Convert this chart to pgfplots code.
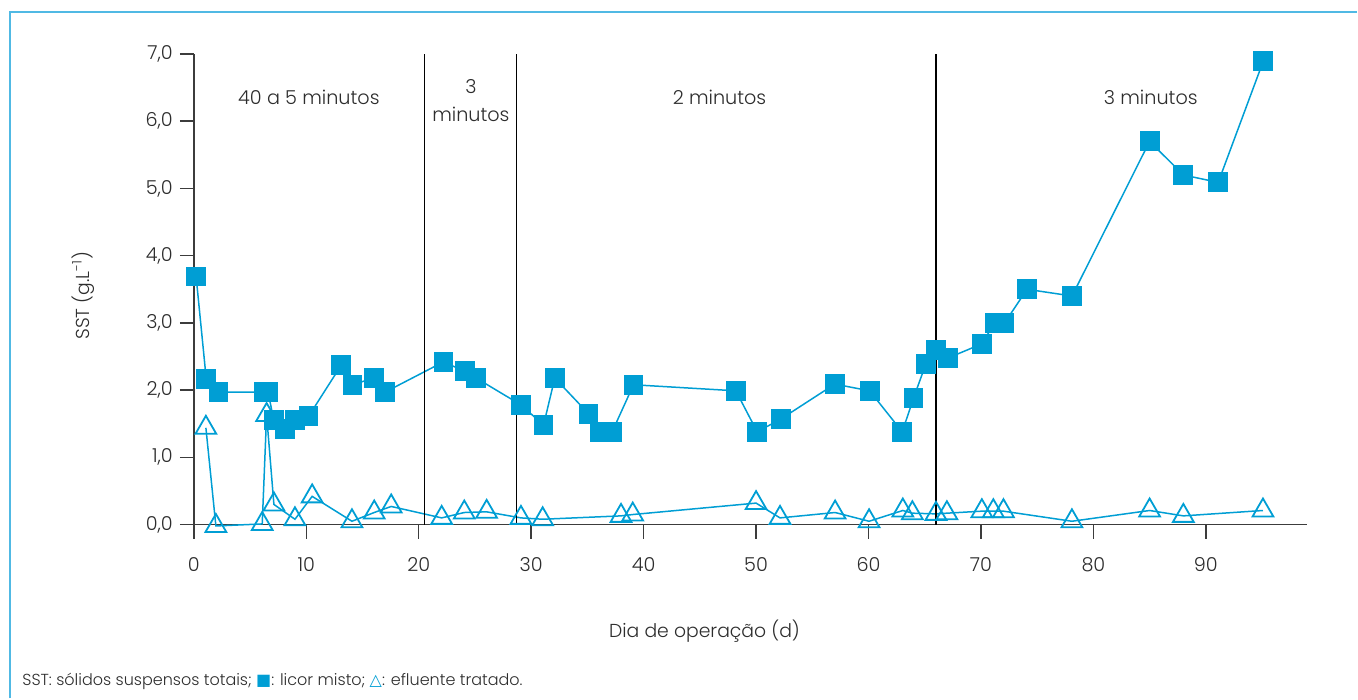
\documentclass[border=0pt]{standalone}
\usepackage{fontspec}
\setmainfont{Poppins Light}
\newfontfamily\dejavu{DejaVu Sans}
\usepackage{pgfplots}
\pgfplotsset{compat=1.18}
\definecolor{mainblue}{RGB}{0,158,212}
\definecolor{framecol}{RGB}{80,185,228}
\definecolor{axcol}{RGB}{60,60,60}
\definecolor{textgray}{RGB}{45,45,45}
\begin{document}
\begin{tikzpicture}
\path (0,0) rectangle (679pt,-349.5pt);
\draw[framecol, line width=1pt] (5pt,-349.5pt) -- (5pt,-6pt) -- (679pt,-6pt);
\begin{axis}[
  at={(97pt,-262.5pt)}, anchor=south west,
  scale only axis, width=557pt, height=235.5pt,
  xmin=0, xmax=99, ymin=0, ymax=7,
  axis lines=left, axis line style={-, draw=axcol, line width=0.7pt},
  tick style={draw=axcol, line width=0.7pt},
  tick align=outside, major tick length=7pt,
  xtick={0,10,...,90}, ytick={0,1,...,7},
  clip=false,
  /pgf/number format/assume math mode=true,
  tick label style={font=\fontsize{9.6}{12}\selectfont, text=textgray},
  xticklabel style={yshift=-6pt},
  yticklabel style={/pgf/number format/.cd, fixed, fixed zerofill, precision=1, use comma},
]
\addplot[color=mainblue, line width=0.75pt, mark=triangle, mark size=6pt,
  mark options={draw=mainblue, line width=0.9pt, fill=none}] coordinates {
(1.07,1.44)(1.96,-0.02)(6.08,0.01)(6.47,1.63)(7.12,0.30)(8.99,0.08)(10.52,0.42)
(14.06,0.05)(16.04,0.18)(17.55,0.27)(22.04,0.10)(24.05,0.18)(26.04,0.19)(29.09,0.10)
(31.02,0.08)(37.99,0.13)(39.03,0.15)(50.0,0.32)(52.13,0.10)(57.03,0.18)(60.05,0.05)
(63.05,0.21)(63.9,0.17)(66.0,0.16)(66.97,0.17)(70.08,0.20)(71.1,0.20)(72.0,0.20)
(78.09,0.05)(85.0,0.21)(88.0,0.13)(95.08,0.21)
};
\addplot[color=mainblue, line width=0.75pt, mark=square*, mark size=4.7pt,
  mark options={fill=mainblue, draw=mainblue, line width=0pt}] coordinates {
(0.2,3.69)(1.1,2.17)(2.2,1.97)(6.2,1.97)(6.6,1.97)(7.1,1.56)(8.1,1.42)(9.0,1.56)
(10.2,1.61)(13.1,2.37)(14.1,2.08)(16.0,2.18)(17.0,1.97)(22.2,2.42)(24.1,2.28)
(25.1,2.18)(29.1,1.78)(31.1,1.48)(32.1,2.18)(35.1,1.65)(36.1,1.38)(37.2,1.38)
(39.1,2.08)(48.2,1.99)(50.1,1.38)(52.2,1.57)(57.0,2.09)(60.1,1.99)(63.0,1.38)
(64.0,1.88)(65.1,2.39)(66.0,2.60)(67.1,2.48)(70.1,2.69)(71.2,3.0)(72.1,3.0)
(74.1,3.50)(78.1,3.40)(85.0,5.70)(88.0,5.20)(91.1,5.09)(95.1,6.89)
};
\draw[black, line width=0.75pt] (axis cs:20.5,0) -- (axis cs:20.5,7);
\draw[black, line width=0.75pt] (axis cs:28.7,0) -- (axis cs:28.7,7);
\draw[black, line width=0.75pt] (axis cs:66.0,0) -- (axis cs:66.0,7);
\draw[axcol, line width=0.7pt] (axis cs:0,0) -- ++(0,-7pt);
\node[text=textgray, font=\fontsize{9.6}{12}\selectfont] at (axis cs:10.23,6.36) {40 a 5 minutos};
\node[text=textgray, font=\fontsize{9.6}{14}\selectfont, align=center] at (axis cs:24.64,6.30) {3\\minutos};
\node[text=textgray, font=\fontsize{9.6}{12}\selectfont] at (axis cs:46.75,6.36) {2 minutos};
\node[text=textgray, font=\fontsize{9.6}{12}\selectfont] at (axis cs:85.1,6.36) {3 minutos};
\end{axis}
\node[text=textgray, font=\fontsize{9.4}{12}\selectfont] at (352.5pt,-316pt) {Dia de operação (d)};
\node[text=textgray, font=\fontsize{9.4}{12}\selectfont, rotate=90] at (41.5pt,-148pt) {SST (g.L\textsuperscript{-1})};
\node[text=textgray, font=\fontsize{8}{10}\selectfont, anchor=west, inner sep=0pt] at (11pt,-341pt) {SST: sólidos suspensos totais; {\dejavu\textcolor{mainblue}{■}}: licor misto; {\dejavu\textcolor{mainblue}{△}}: efluente tratado.};
\end{tikzpicture}
\end{document}
